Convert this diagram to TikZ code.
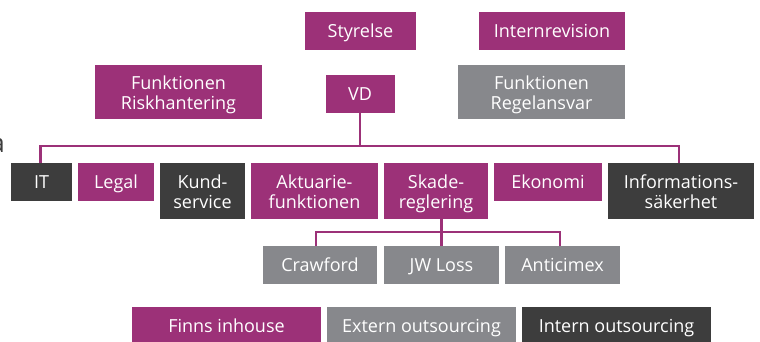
\documentclass[tikz,border=0pt]{standalone}
\usepackage{fontspec}
\setmainfont{Open Sans}
\definecolor{plum}{HTML}{9C3178}
\definecolor{midgray}{HTML}{87888C}
\definecolor{darkbox}{HTML}{3D3D3D}
\tikzset{
  box/.style={draw=none, text=white, align=center, inner sep=0pt,
    font=\fontsize{18}{20}\selectfont, minimum height=38pt,
    text height=13pt, text depth=0pt},
  twoline/.style={text height=34.5pt, text depth=0pt},
  pbox/.style={box, fill=plum},
  gbox/.style={box, fill=midgray},
  dbox/.style={box, fill=darkbox},
  conn/.style={draw=plum, line width=2.5pt},
}
\begin{document}
\begin{tikzpicture}[x=1pt,y=1pt]
\useasboundingbox (0,0) rectangle (760,-341);
% stray letter at left edge
\node[anchor=base east, inner sep=0pt, text=darkbox, font=\fontsize{26}{26}\selectfont] (stray) at (5,-152) {a};
% top
\node[pbox, minimum width=111pt] (sty) at (360.5,-31) {Styrelse};
\node[pbox, minimum width=146pt] (irev) at (552,-31) {Internrevision};
\node[pbox, twoline, minimum height=54pt, minimum width=167pt] (risk) at (178.5,-92) {Funktionen\\Riskhantering};
\node[pbox, minimum width=69pt] (vd) at (360,-94) {VD};
\node[gbox, twoline, minimum height=54pt, minimum width=167pt] (regel) at (541.5,-92) {Funktionen\\Regelansvar};
% main row
\node[dbox, minimum width=61pt] (it) at (41.5,-182) {IT};
\node[pbox, minimum width=76pt] (legal) at (116,-182) {Legal};
\node[dbox, twoline, minimum width=85pt, minimum height=56pt] (kund) at (202.5,-191) {Kund-\\service};
\node[pbox, twoline, minimum width=127pt, minimum height=56pt] (akt) at (314.5,-191) {Aktuarie-\\funktionen};
\node[pbox, twoline, minimum width=104pt, minimum height=56pt] (skade) at (436,-191) {Skade-\\reglering};
\node[pbox, minimum width=108pt] (eko) at (548,-182) {Ekonomi};
\node[dbox, twoline, minimum width=146pt, minimum height=56pt] (info) at (681,-191) {Informations-\\säkerhet};
% sub row
\node[gbox, minimum width=114pt] (craw) at (320,-265) {Crawford};
\node[gbox, minimum width=115pt] (jw) at (441.5,-265) {JW Loss};
\node[gbox, minimum width=115pt] (anti) at (562.5,-265) {Anticimex};
% legend
\node[pbox, minimum width=189pt] (l1) at (226.5,-326) {Finns inhouse};
\node[gbox, minimum width=189pt] (l2) at (421.5,-326) {Extern outsourcing};
\node[dbox, minimum width=189pt] (l3) at (616.5,-326) {Intern outsourcing};
% connectors
\coordinate (busL) at (40.5,-146);
\coordinate (busR) at (679,-146);
\draw[conn] (vd.south) -- (vd.south |- busL);
\draw[conn] (it.north -| busL) -- (busL) -- (busR) -- (info.north -| busR);
\coordinate (subL) at (316,-232);
\coordinate (subR) at (560,-232);
\draw[conn] (skade.south -| jw.north) -- (jw.north);
\draw[conn] (craw.north -| subL) -- (subL) -- (subR) -- (anti.north -| subR);
\end{tikzpicture}
\end{document}
